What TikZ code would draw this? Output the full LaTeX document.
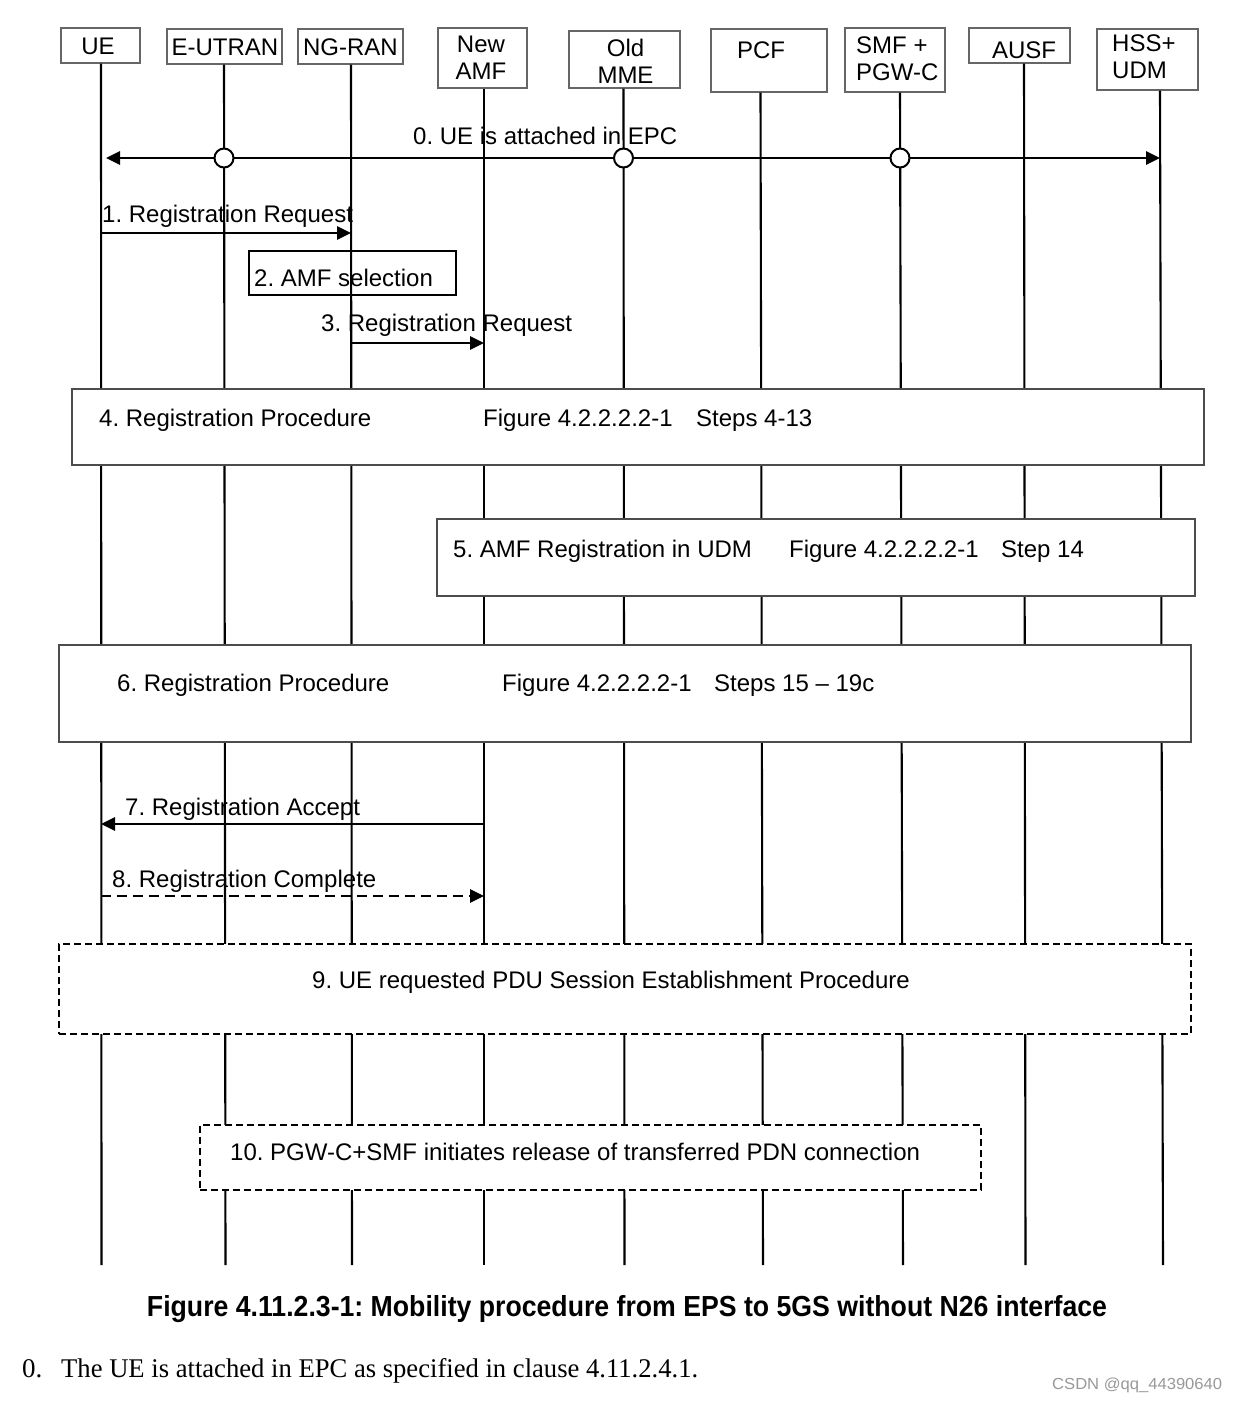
\documentclass[tikz,border=0pt]{standalone}
\usepackage{fontspec}
\usepackage{graphicx}
\setmainfont{Liberation Sans}
\newfontfamily\seriffont{Liberation Serif}
\usetikzlibrary{arrows.meta}
\frenchspacing
\tikzset{
  hdr/.style={draw=black!60, line width=1.4pt, fill=white, inner sep=0pt},
  htxt/.style={inner sep=0pt, font=\fontsize{24}{27}\selectfont},
  lbl/.style={anchor=base west, inner sep=0pt, font=\fontsize{24}{28}\selectfont},
  life/.style={draw=black, line width=2.1pt},
  msg/.style={draw=black, line width=2.8pt, -{Triangle[length=14pt,width=13pt]}},
  pbox/.style={draw=black!70, line width=1.4pt, fill=white, inner sep=0pt},
  dbox/.style={draw=black, line width=2pt, fill=white, inner sep=0pt, dash pattern=on 7pt off 4pt},
  circ/.style={circle, draw=black, line width=2pt, fill=white, minimum size=19pt, inner sep=0pt},
}
\begin{document}
\begin{tikzpicture}[x=1pt,y=-1pt]
\fill[white] (0,0) rectangle (1237,1401);
\useasboundingbox (0,0) rectangle (1237,1401);

% lifeline reference coordinates (top x, bottom end)
\coordinate (ueT) at (101,0);     \coordinate (ueB) at (101.5,1265);
\coordinate (euT) at (224,0);     \coordinate (euB) at (225.5,1265);
\coordinate (ngT) at (351,0);     \coordinate (ngB) at (352,1265);
\coordinate (amT) at (484,0);     \coordinate (amB) at (484,1265);
\coordinate (mmT) at (623.5,0);   \coordinate (mmB) at (624.5,1265);
\coordinate (pcT) at (760.5,0);   \coordinate (pcB) at (763,1265);
\coordinate (smT) at (900,0);     \coordinate (smB) at (903,1265);
\coordinate (auT) at (1024,0);    \coordinate (auB) at (1025.5,1265);
\coordinate (hsT) at (1160,0);    \coordinate (hsB) at (1163,1265);

% header boxes
\node[hdr, minimum width=79pt,  minimum height=35pt] (ue)  at (100.5,45.5) {};
\node[hdr, minimum width=115pt, minimum height=35pt] (eu)  at (224.5,46.5) {};
\node[hdr, minimum width=105pt, minimum height=35pt] (ng)  at (350.5,46.5) {};
\node[hdr, minimum width=89pt,  minimum height=60pt] (am)  at (482.5,58) {};
\node[hdr, minimum width=111pt, minimum height=57pt] (mm)  at (624.5,59.5) {};
\node[hdr, minimum width=116pt, minimum height=63pt] (pc)  at (769,60.5) {};
\node[hdr, minimum width=100pt, minimum height=64pt] (sm)  at (895,60) {};
\node[hdr, minimum width=101pt, minimum height=35pt] (au)  at (1019.5,45.5) {};
\node[hdr, minimum width=101pt, minimum height=61pt] (hs)  at (1147.5,59.5) {};

% lifelines
\draw[life] (ue.south -| ueT) -- (ueB);
\draw[life] (eu.south -| euT) -- (euB);
\draw[life] (ng.south -| ngT) -- (ngB);
\draw[life] (am.south -| amT) -- (amB);
\draw[life] (mm.south -| mmT) -- (mmB);
\draw[life] (pc.south -| pcT) -- (pcB);
\draw[life] (sm.south -| smT) -- (smB);
\draw[life] (au.south -| auT) -- (auB);
\draw[life] (hs.south -| hsT) -- (hsB);

% header texts
\node[htxt, anchor=base] (tue) at (98,54) {UE};
\node[htxt, anchor=base] (teu) at (225,55) {E-UTRAN};
\node[htxt, anchor=base] (tng) at (350.5,55) {NG-RAN};
\node[htxt, align=center] (tam) at (481,58) {New\\AMF};
\node[htxt, align=center] (tmm) at (625.5,61) {Old\\MME};
\node[htxt, anchor=base] (tpc) at (761,58.5) {PCF};
\node[htxt, align=left, anchor=west] (tsm) at (856,59) {SMF +\\PGW-C};
\node[htxt, anchor=base] (tau) at (1024,58.5) {AUSF};
\node[htxt, align=left, anchor=west] (ths) at (1112,56.5) {HSS+\\UDM};

% procedure boxes
\node[pbox, minimum width=1132pt, minimum height=76pt] (p4) at (638,427) {};
\node[pbox, minimum width=758pt,  minimum height=77pt] (p5) at (816,557.5) {};
\node[pbox, minimum width=1132pt, minimum height=97pt] (p6) at (625,693.5) {};
\node[dbox, minimum width=1132pt, minimum height=90pt] (p9) at (625,989) {};
\node[dbox, minimum width=781pt,  minimum height=65pt] (p10) at (590.5,1157) {};
\node[draw=black, line width=1.8pt, inner sep=0pt, minimum width=207pt, minimum height=44pt] (p2) at (352.5,273) {};

% step 0
\draw[msg, {Triangle[length=14pt,width=13pt]}-{Triangle[length=14pt,width=13pt]}, shorten <=5pt] (ueT |- 0,158) -- (hsT |- 0,158);
\node[circ] (c1) at (euT |- 0,158) {};
\node[circ] (c2) at (mmT |- 0,158) {};
\node[circ] (c3) at (smT |- 0,158) {};
\node[lbl] (l0) at (413,144) {0. UE is attached in EPC};

% step 1
\draw[msg] (ueT |- 0,233) -- (ngT |- 0,233);
\node[lbl] (l1) at (102,222) {1. Registration Request};
% step 2
\node[lbl] (l2) at (254,286.5) {2. AMF selection};
% step 3
\draw[msg] (ngT |- 0,343) -- (amT |- 0,343);
\node[lbl] (l3) at (321,331.5) {3. Registration Request};
% step 4
\node[lbl] (l4a) at (99,426) {4. Registration Procedure};
\node[lbl] (l4b) at (483,426) {Figure 4.2.2.2.2-1};
\node[lbl] (l4c) at (696,426) {Steps 4-13};
% step 5
\node[lbl] (l5a) at (453,557.5) {5. AMF Registration in UDM};
\node[lbl] (l5b) at (789,557.5) {Figure 4.2.2.2.2-1};
\node[lbl] (l5c) at (1001,557.5) {Step 14};
% step 6
\node[lbl] (l6a) at (117,691.5) {6. Registration Procedure};
\node[lbl] (l6b) at (502,691.5) {Figure 4.2.2.2.2-1};
\node[lbl] (l6c) at (714,691.5) {Steps 15 \textendash{} 19c};
% step 7
\draw[msg] (amT |- 0,824) -- (ueT |- 0,824);
\node[lbl] (l7) at (125,815.5) {7. Registration Accept};
% step 8
\draw[msg, dash pattern=on 10pt off 6pt] (ueT |- 0,896) -- (amT |- 0,896);
\node[lbl] (l8) at (112,887.5) {8. Registration Complete};
% step 9
\node[lbl, anchor=base] (l9) at (611,988.5) {9. UE requested PDU Session Establishment Procedure};
% step 10
\node[lbl] (l10) at (230,1160.5) {10. PGW-C+SMF initiates release of transferred PDN connection};

% caption and body
\node[anchor=base, inner sep=0pt] (cap) at (627,1316) {\resizebox{960pt}{\height}{\fontsize{29}{32}\selectfont\bfseries Figure 4.11.2.3-1: Mobility procedure from EPS to 5GS without N26 interface}};
\node[anchor=base west, inner sep=0pt] (b0) at (22,1377) {\seriffont\fontsize{27}{30}\selectfont 0.};
\node[anchor=base west, inner sep=0pt] (b1) at (61,1377) {\resizebox{637pt}{\height}{\seriffont\fontsize{27}{30}\selectfont The UE is attached in EPC as specified in clause 4.11.2.4.1.}};
\node[anchor=base west, inner sep=0pt, text=black!40] (wm) at (1052,1389) {\resizebox{170pt}{\height}{\fontsize{16}{18}\selectfont CSDN @qq\_44390640}};
\end{tikzpicture}
\end{document}
